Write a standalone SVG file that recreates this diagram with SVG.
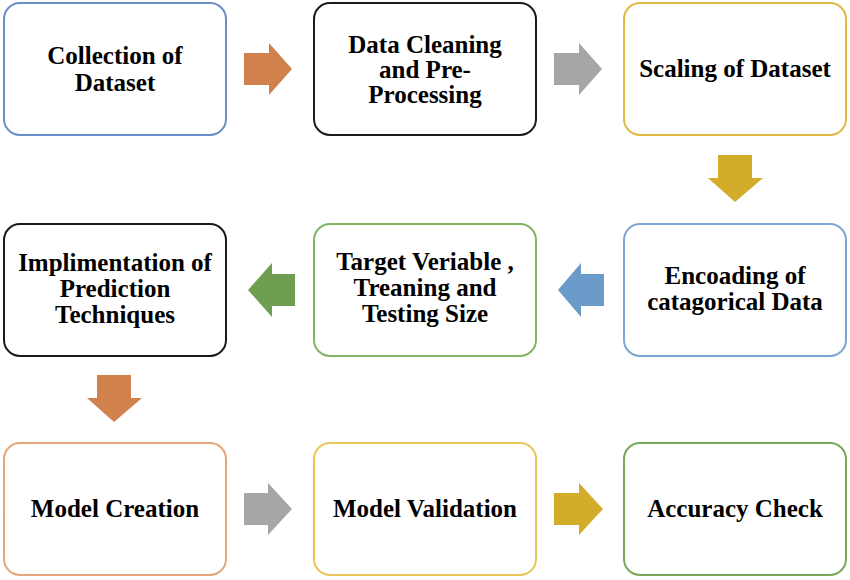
<svg xmlns="http://www.w3.org/2000/svg" width="850" height="580" viewBox="0 0 850 580">
<style>
.box{fill:#ffffff;stroke-width:2}
.t{font-family:"Liberation Serif","Times New Roman",serif;font-weight:bold;font-size:25px;fill:#000000;text-anchor:middle}
</style>
<rect width="850" height="580" fill="#ffffff"/>
<g id="connectors">
<polygon points="244,53 269,53 269,43 292,69 269,95 269,85 244,85" fill="#D1814C"/>
<polygon points="554,53 579,53 579,43 602,69 579,95 579,85 554,85" fill="#A6A6A6"/>
<polygon points="718,155 752,155 752,178 763,178 735,202 708,178 718,178" fill="#D4AC2C"/>
<polygon points="604,274 581,274 581,263 558,290 581,317 581,306 604,306" fill="#6B9BC8"/>
<polygon points="295,274 272,274 272,263 248,290 272,317 272,306 295,306" fill="#6F9E50"/>
<polygon points="97,375 131,375 131,398 142,398 114,422 87,398 97,398" fill="#D1814C"/>
<polygon points="244,493 268,493 268,483 292,509 268,535 268,525 244,525" fill="#A6A6A6"/>
<polygon points="554,493 579,493 579,483 603,509 579,535 579,525 554,525" fill="#D4AC2C"/>
</g>
<g id="n1"><rect class="box" x="4" y="3" width="222" height="132" rx="16" stroke="#6A8FC6"/>
<text class="t" x="115" y="64">Collection of</text><text class="t" x="115" y="91">Dataset</text></g>
<g id="n2"><rect class="box" x="314" y="3" width="222" height="132" rx="16" stroke="#1a1a1a"/>
<text class="t" x="425" y="53">Data Cleaning</text><text class="t" x="425" y="78">and Pre-</text><text class="t" x="425" y="103">Processing</text></g>
<g id="n3"><rect class="box" x="624" y="3" width="222" height="132" rx="16" stroke="#E2B846"/>
<text class="t" x="735" y="77">Scaling of Dataset</text></g>
<g id="n4"><rect class="box" x="4" y="224" width="222" height="132" rx="16" stroke="#1a1a1a"/>
<text class="t" x="115" y="271">Implimentation of</text><text class="t" x="115" y="297">Prediction</text><text class="t" x="115" y="323">Techniques</text></g>
<g id="n5"><rect class="box" x="314" y="224" width="222" height="132" rx="16" stroke="#82B366"/>
<text class="t" x="425" y="270">Target Veriable ,</text><text class="t" x="425" y="296">Treaning and</text><text class="t" x="425" y="322">Testing Size</text></g>
<g id="n6"><rect class="box" x="624" y="224" width="222" height="132" rx="16" stroke="#7EA6D2"/>
<text class="t" x="735" y="284">Encoading of</text><text class="t" x="735" y="310">catagorical Data</text></g>
<g id="n7"><rect class="box" x="4" y="443" width="222" height="132" rx="16" stroke="#E5A77A"/>
<text class="t" x="115" y="517">Model Creation</text></g>
<g id="n8"><rect class="box" x="314" y="443" width="222" height="132" rx="16" stroke="#EAC659"/>
<text class="t" x="425" y="517">Model Validation</text></g>
<g id="n9"><rect class="box" x="624" y="443" width="222" height="132" rx="16" stroke="#78A858"/>
<text class="t" x="735" y="517">Accuracy Check</text></g>
</svg>
